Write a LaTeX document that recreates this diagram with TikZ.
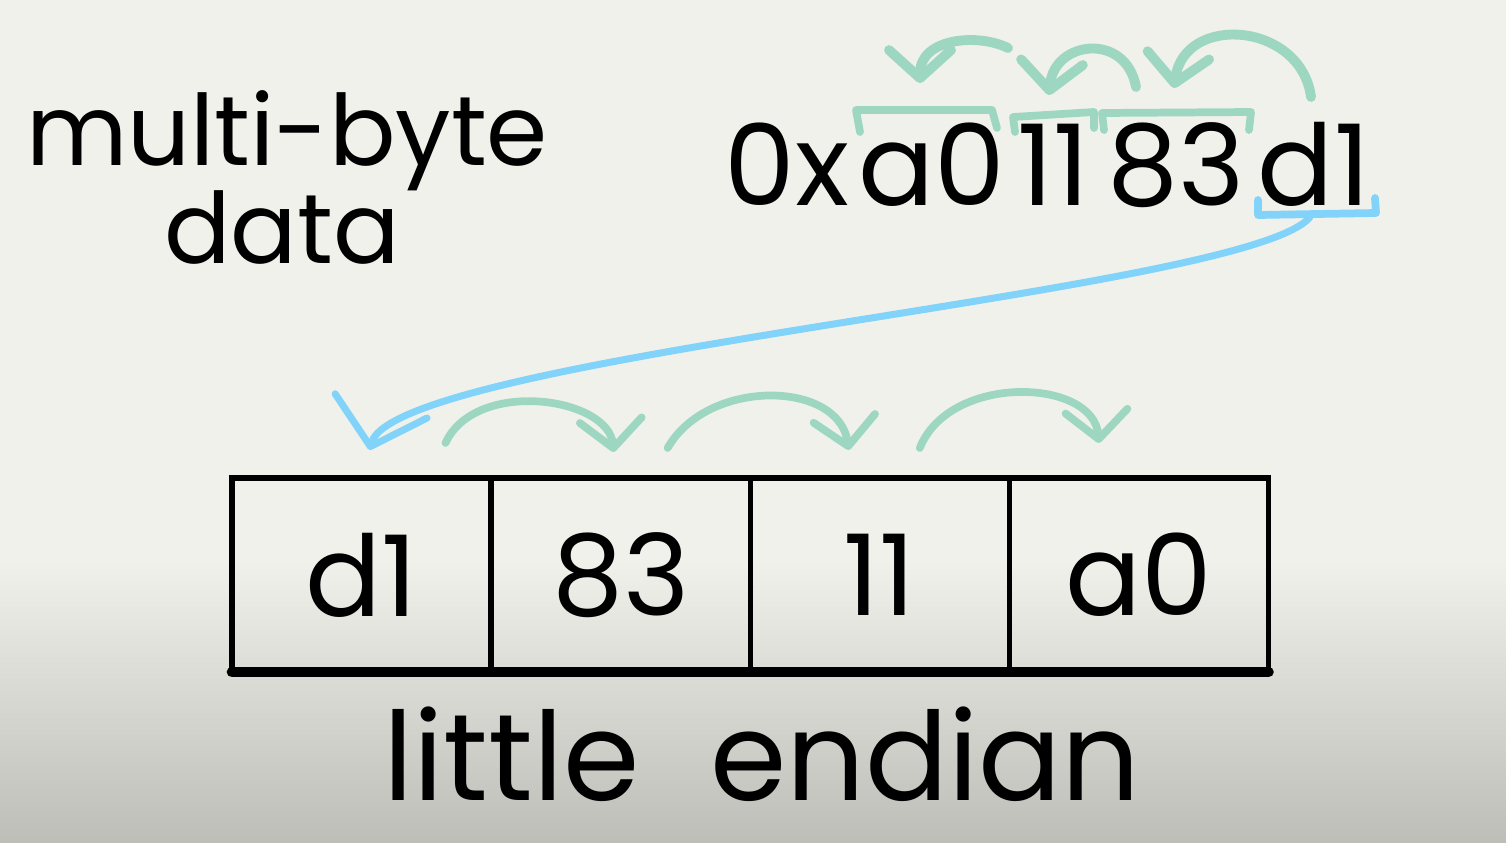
\documentclass[tikz,border=0pt]{standalone}
\usepackage{fontspec}
\setmainfont{Poppins}
\usetikzlibrary{%
  arrows.meta,%
  positioning%
}
\definecolor{mint}{RGB}{157,215,194}
\definecolor{sky}{RGB}{130,211,250}
\definecolor{paper}{RGB}{241,241,236}
\definecolor{paperdark}{RGB}{190,190,185}

\tikzset{
  hexbyte/.style={inner sep=0pt,anchor=base,font=\fontsize{32}{32}\selectfont},
  handtext/.style={inner sep=0pt,anchor=base,font=\fontsize{#1}{#1}\selectfont},
  cell/.style={draw,line width=1.5pt,minimum width=2.59cm,minimum height=1.94cm,
    outer sep=0pt,inner sep=0pt,font=\fontsize{32}{32}\selectfont},
  brace/.style={line width=2.2pt,line cap=round,line join=round},
  hop/.style={draw=mint,line width=#1,line cap=round,
    -{Straight Barb[length=0.28cm,width=0.62cm,round]}},
  hop/.default=2.2pt
}

\begin{document}
\begin{tikzpicture}[x=0.01cm,y=-0.01cm]
  \useasboundingbox (0,0) rectangle (1506,842);
  \fill[paper] (0,0) rectangle (1506,842);
  \shade[top color=paper,bottom color=paperdark] (0,560) rectangle (1506,842);

  % heading
  \node[handtext=28] (multi) at (287,165) {multi-byte};
  \node[handtext=28] (data) at (282,263) {data};

  % the number, byte by byte
  \node[hexbyte] (h0x) at (787,205) {0x};
  \node[hexbyte] (ha0) at (932,205) {a0};
  \node[hexbyte] (h11) at (1053,205) {11};
  \node[hexbyte] (h83) at (1176,205) {83};
  \node[hexbyte] (hd1) at (1314,205) {d1};

  \draw[brace,mint] (860,132) -- (856,110) -- (992,110) -- (997,128);
  \draw[brace,mint] (1015,132) -- (1013,117) -- (1094,112) -- (1094,128);
  \draw[brace,mint] (1104,130) -- (1102,113) -- (1251,112) -- (1249,130);
  \draw[brace,sky] (1258,200) -- (1258,215) -- (1376,213) -- (1375,198);

  \draw[hop=2.8pt] ([shift={(-3,-108)}]hd1.base)
    .. controls +(-10,-75) and +(10,-75) .. ([shift={(-2,-117)}]h83.base);
  \draw[hop=2.8pt] ([shift={(-40,-118)}]h83.base)
    .. controls +(-10,-55) and +(5,-55) .. ([shift={(-4,-110)}]h11.base);
  \draw[hop=2.8pt] ([shift={(-45,-157)}]h11.base)
    .. controls +(-30,-15) and +(0,-45) .. ([shift={(-12,-122)}]ha0.base);

  % memory cells
  \node[cell] (c1) at (361.5,575) {d1};
  \node[cell,right=0pt of c1] (c2) {83};
  \node[cell,right=0pt of c2] (c3) {11};
  \node[cell,right=0pt of c3] (c4) {a0};
  \draw[line width=3pt,line cap=round] (c1.south west) -- (c4.south east);

  \draw[draw=sky,line width=2pt,line cap=round,
    -{Straight Barb[length=0.42cm,width=0.95cm,round]}]
    ([shift={(-4,12)}]hd1.base)
    .. controls +(-60,75) and +(25,-95) .. ([shift={(8,-28)}]c1.north);

  \draw[hop] ([shift={(84,-35)}]c1.north)
    .. controls +(30,-65) and +(-5,-55) .. ([shift={(-7,-26)}]c2.north);
  \draw[hop] ([shift={(47,-30)}]c2.north)
    .. controls +(40,-70) and +(-10,-70) .. ([shift={(-31,-28)}]c3.north);
  \draw[hop] ([shift={(40,-30)}]c3.north)
    .. controls +(30,-75) and +(-5,-65) .. ([shift={(-40,-35)}]c4.north);

  \node[handtext=35] (endian) at (762,800) {little\hspace{0.7cm}endian};
\end{tikzpicture}
\end{document}
